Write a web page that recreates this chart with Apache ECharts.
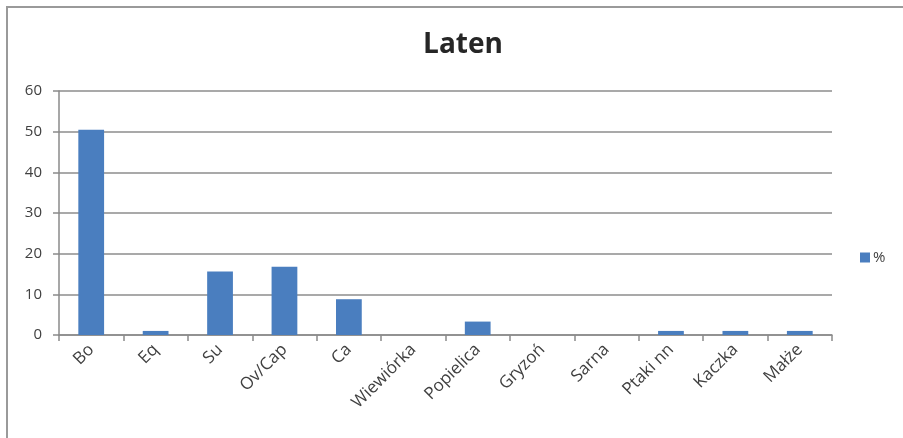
<!DOCTYPE html>
<html>
<head>
<meta charset="utf-8">
<script src="https://cdn.jsdelivr.net/npm/echarts@6/dist/echarts.min.js"></script>
<style>
  html, body { margin: 0; padding: 0; background: #ffffff; }
  #chart { width: 903px; height: 438px; }
</style>
</head>
<body>
<div id="chart"></div>
<script>
// Share of animal remains, La Tène period (%)
const categories = ['Bo', 'Eq', 'Su', 'Ov/Cap', 'Ca', 'Wiewiórka', 'Popielica', 'Gryzoń', 'Sarna', 'Ptaki nn', 'Kaczka', 'Małże'];
const percentValues = [50.5, 1.0, 15.6, 16.8, 8.8, 0, 3.3, 0, 0, 1.0, 1.0, 1.0];
const yTicks = { min: 0, max: 60, interval: 10 };

const chart = echarts.init(document.getElementById('chart'), null, { renderer: 'canvas' });
const font = '"Open Sans", "Liberation Sans", sans-serif';

chart.setOption({
  backgroundColor: '#ffffff',
  animation: false,
  graphic: [{
    type: 'rect',
    shape: { x: 7, y: 7, width: 1000, height: 1000 },
    style: { fill: 'none', stroke: '#9a9a9a', lineWidth: 2 },
    silent: true
  }],
  title: {
    text: 'Laten',
    left: 458,
    textAlign: 'center',
    top: 26,
    textStyle: { fontFamily: font, fontSize: 28, fontWeight: 'bold', color: '#262626' }
  },
  legend: {
    data: ['%'],
    orient: 'vertical',
    left: 855,
    top: 245,
    itemWidth: 10,
    itemHeight: 10,
    itemGap: 4,
    icon: 'rect',
    textStyle: { fontFamily: font, fontSize: 15, color: '#404040', padding: [0, 0, 0, -2] }
  },
  grid: { left: 59, right: 71, top: 91, bottom: 103, containLabel: false },
  xAxis: {
    type: 'category',
    data: categories,
    boundaryGap: true,
    axisLine: { lineStyle: { color: '#8a8a8a', width: 1.5 } },
    axisTick: { show: true, length: 6, alignWithLabel: false, lineStyle: { color: '#8a8a8a', width: 1.5 } },
    axisLabel: {
      interval: 0,
      rotate: 45,
      margin: 12,
      fontFamily: font,
      fontSize: 17,
      color: '#404040'
    }
  },
  yAxis: {
    type: 'value',
    min: yTicks.min,
    max: yTicks.max,
    interval: yTicks.interval,
    axisLine: { show: true, lineStyle: { color: '#8a8a8a', width: 1.5 } },
    axisTick: { show: true, length: 6, lineStyle: { color: '#8a8a8a', width: 1.5 } },
    splitLine: { lineStyle: { color: '#8c8c8c', width: 1.5 } },
    axisLabel: { margin: 17, fontFamily: font, fontSize: 15, color: '#404040' }
  },
  series: [{
    name: '%',
    type: 'bar',
    data: percentValues,
    barWidth: '40%',
    itemStyle: { color: '#4a7ebf' }
  }]
});
</script>
</body>
</html>
